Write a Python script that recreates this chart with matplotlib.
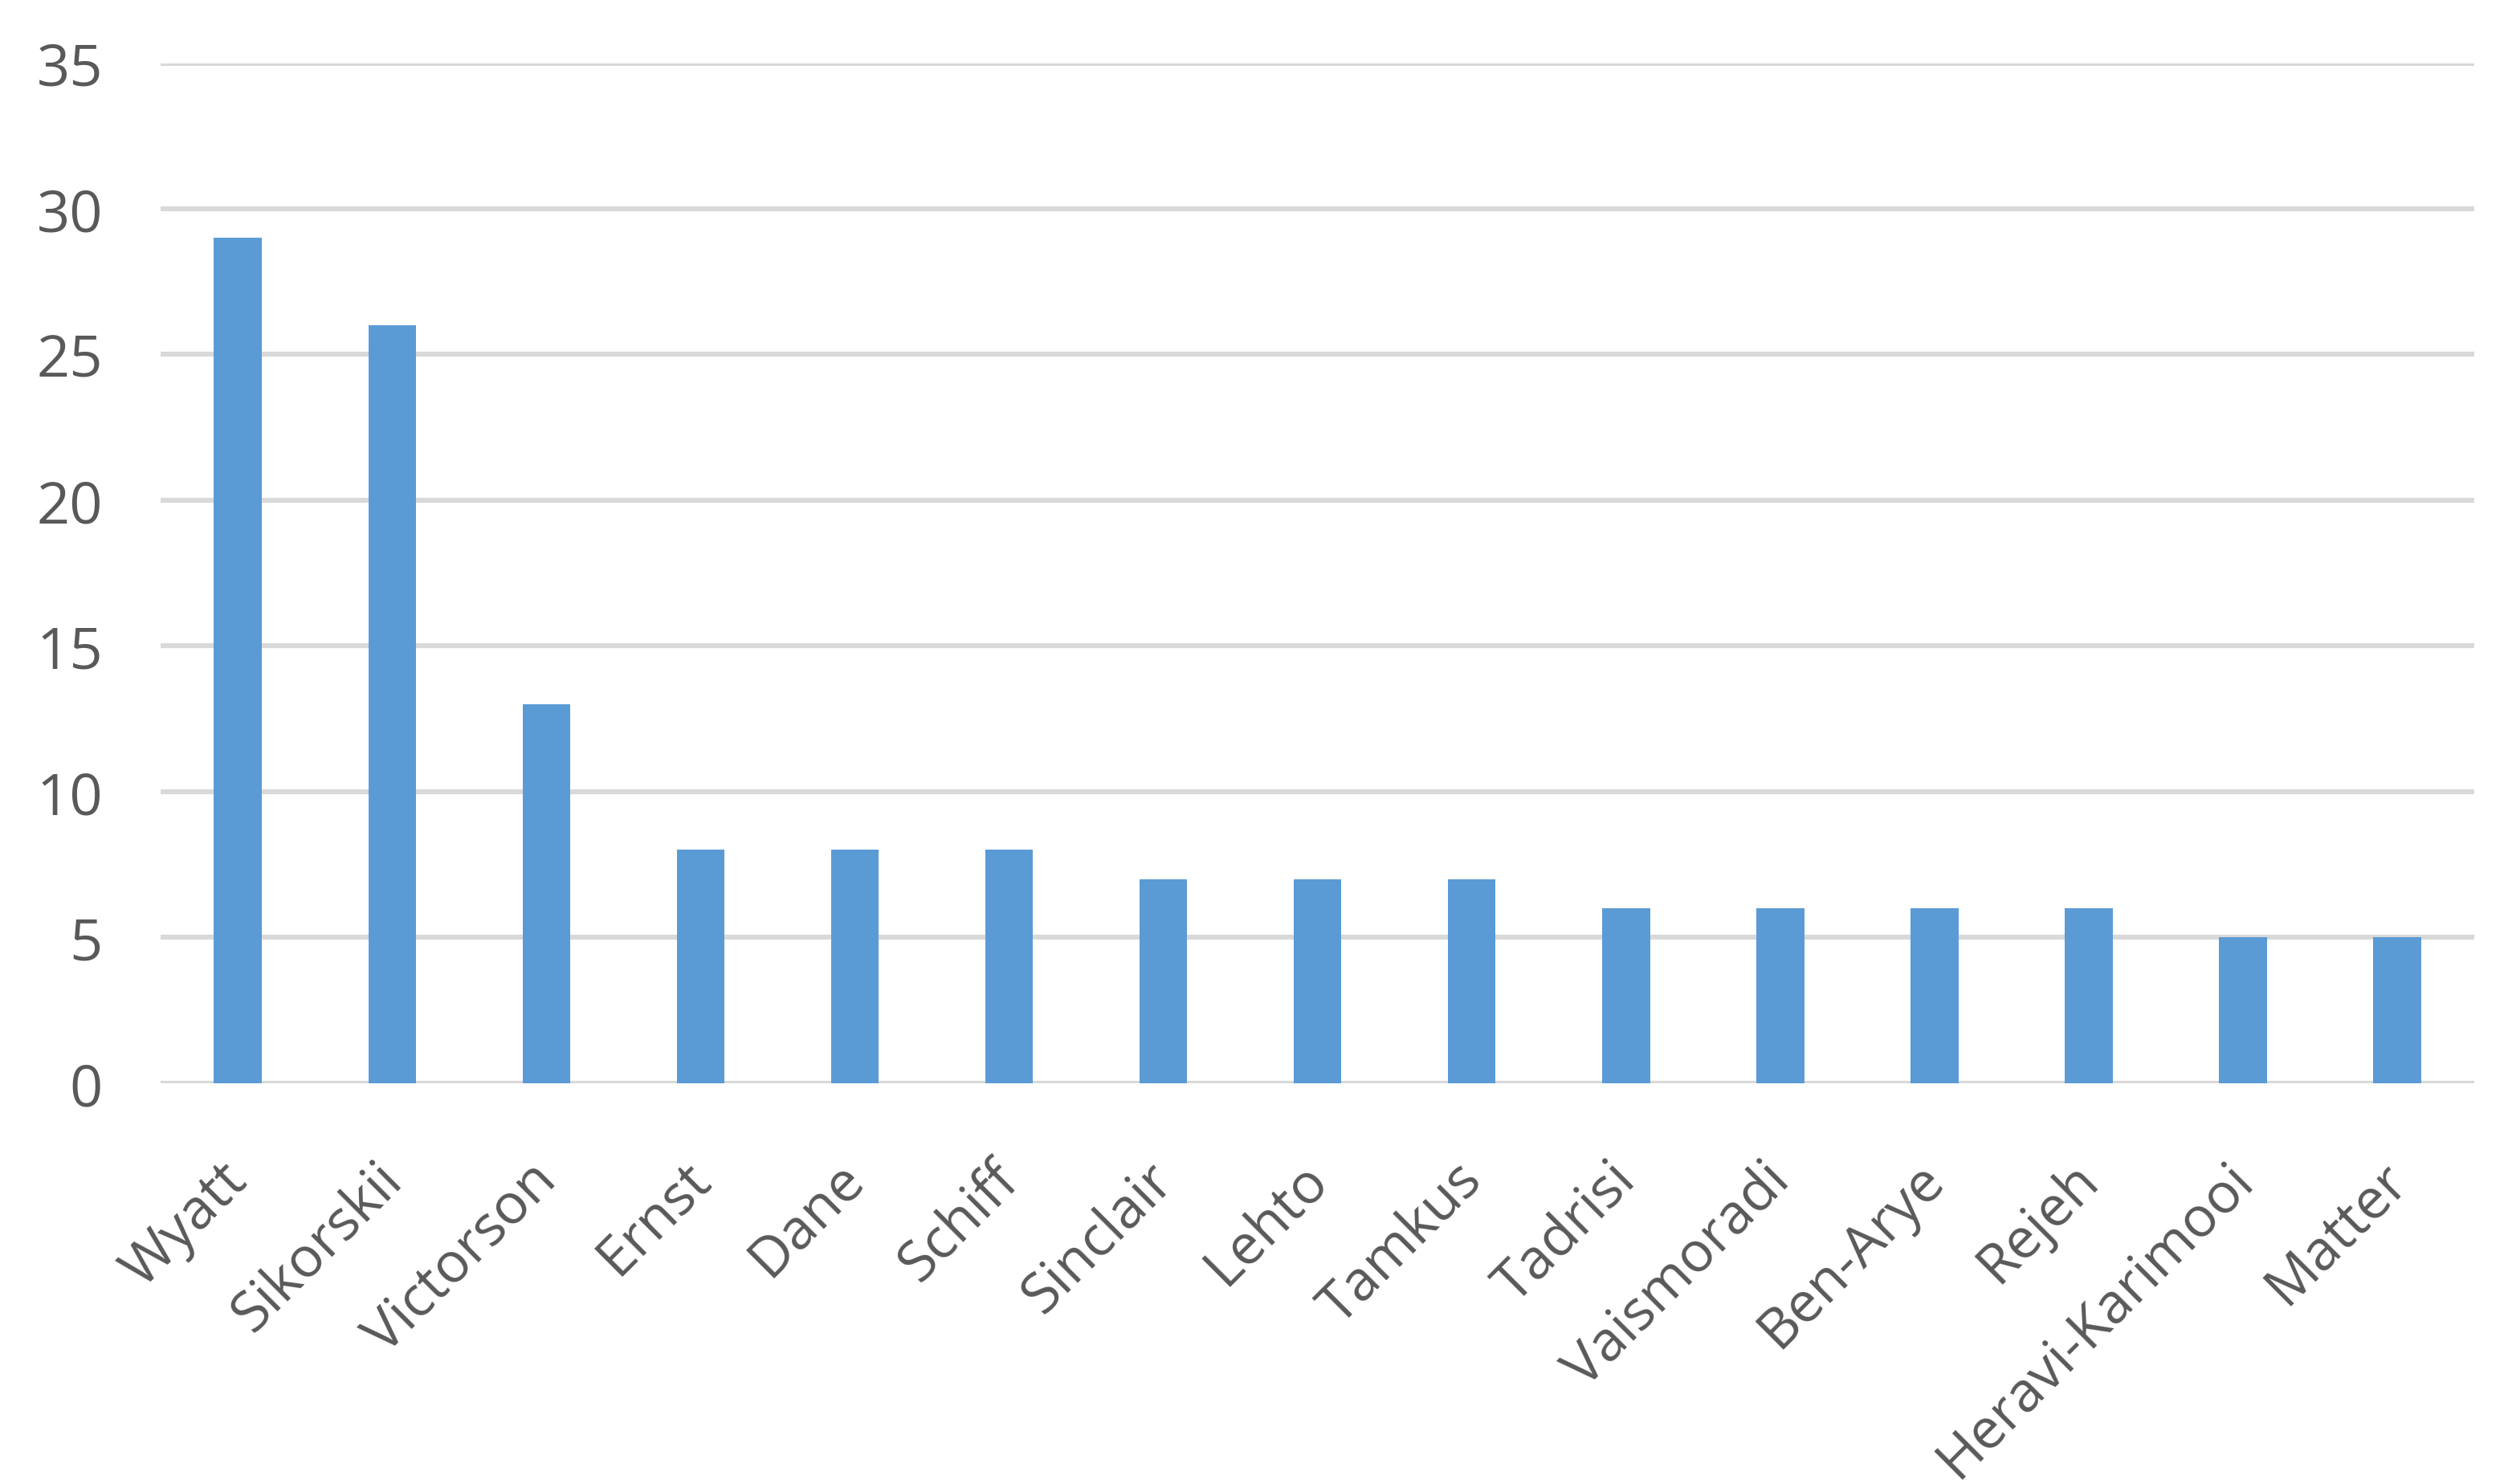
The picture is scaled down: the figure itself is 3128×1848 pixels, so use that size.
import matplotlib.pyplot as plt
import matplotlib.transforms as mtransforms

# Datos
autores = ["Wyatt", "Sikorskii", "Victorson", "Ernst", "Dane", "Schiff", "Sinclair",
           "Lehto", "Tamkus", "Tadrisi", "Vaismoradi", "Ben-Arye", "Rejeh",
           "Heravi-Karimooi", "Matter"]
valores = [29, 26, 13, 8, 8, 8, 7, 7, 7, 6, 6, 6, 6, 5, 5]
ticks_y = [0, 5, 10, 15, 20, 25, 30, 35]

plt.rcParams['font.family'] = ['Open Sans', 'DejaVu Sans']

fig = plt.figure(figsize=(31.28, 18.49), dpi=100)
ax = fig.add_axes([0.064, 0.27, 0.921, 0.687])

x = range(len(autores))
ax.bar(x, valores, width=0.31, color='#5B9BD5', zorder=3)

ax.set_xlim(-0.5, len(autores) - 0.5)
ax.set_ylim(0, 35)
ax.set_yticks(ticks_y)
ax.set_xticks(list(x))
ax.set_xticklabels([])

# etiquetas del eje x a mano, giradas 45 grados
desplazamiento = mtransforms.ScaledTranslation(-0.23, -0.85, fig.dpi_scale_trans)
trans = ax.get_xaxis_transform() + desplazamiento
for i, nombre in enumerate(autores):
    ax.text(i, 0, nombre, transform=trans, rotation=45, rotation_mode='anchor',
            ha='right', va='top', fontsize=50, color='#595959')

ax.grid(axis='y', color='#D9D9D9', linewidth=4.5, zorder=0)
ax.grid(axis='x', visible=False)
for s in ax.spines.values():
    s.set_visible(False)

ax.tick_params(axis='both', length=0, labelsize=52, colors='#595959')
ax.tick_params(axis='y', pad=52)

fig.savefig('out.png', dpi=100, facecolor='white')
